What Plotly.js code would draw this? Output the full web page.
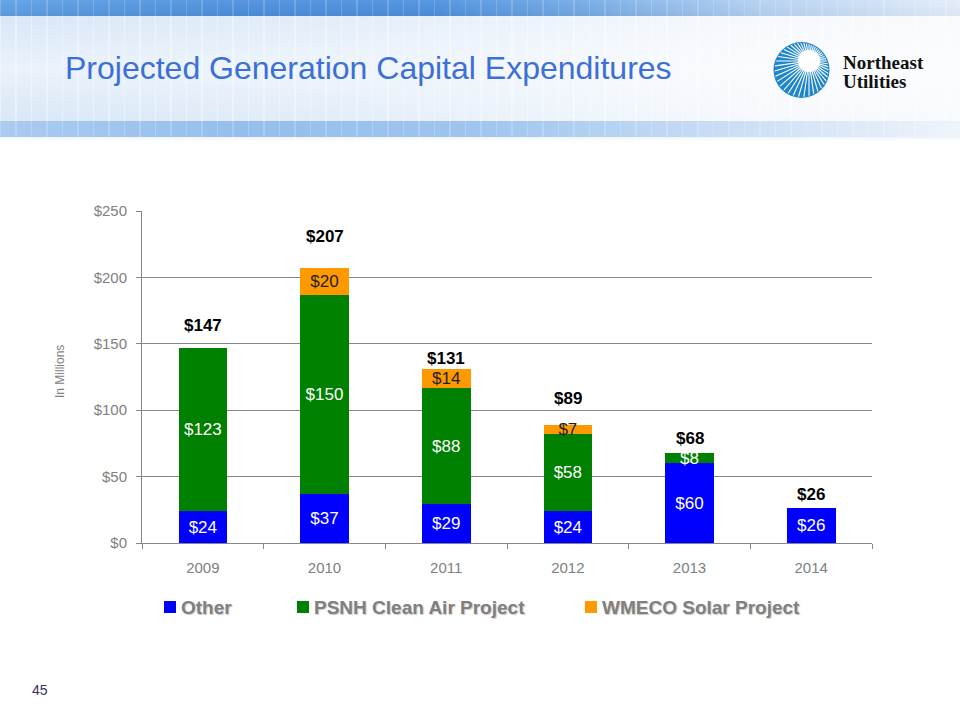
<!DOCTYPE html>
<html>
<head>
<meta charset="utf-8">
<script src="https://cdn.plot.ly/plotly-3.0.1.min.js"></script>
<style>
  html, body { margin: 0; padding: 0; background: #ffffff; }
  #wrap { position: relative; width: 960px; height: 720px; overflow: hidden; }
  #bg-top { position: absolute; left: 0; top: 0; width: 960px; height: 16px;
    background:
      repeating-linear-gradient(to right, rgba(255,255,255,0.18) 0px, rgba(255,255,255,0.18) 1px, rgba(255,255,255,0) 1px, rgba(255,255,255,0) 15.5px),
      linear-gradient(to bottom, rgba(255,255,255,0.08), rgba(0,0,0,0.03)),
      linear-gradient(to right, #5d9ee2 0%, #4a8edc 25%, #4b8fdc 45%, #76abe5 62%, #b6d2f2 80%, #e3edfa 100%); }
  #bg-mid { position: absolute; left: 0; top: 16px; width: 960px; height: 105px;
    background:
      repeating-linear-gradient(to right, rgba(255,255,255,0.35) 0px, rgba(255,255,255,0.35) 1px, rgba(255,255,255,0) 1px, rgba(255,255,255,0) 15.5px),
      linear-gradient(to bottom, rgba(255,255,255,0) 0%, rgba(255,255,255,0.45) 50%, rgba(255,255,255,0) 100%),
      linear-gradient(to right, #d9e7f8 0%, #e2edf9 35%, #eef4fc 60%, #f6f9fd 80%, #f8fafd 100%); }
  #bg-bot { position: absolute; left: 0; top: 121px; width: 960px; height: 16px;
    background:
      repeating-linear-gradient(to right, rgba(255,255,255,0.2) 0px, rgba(255,255,255,0.2) 1px, rgba(255,255,255,0) 1px, rgba(255,255,255,0) 15.5px),
      linear-gradient(to right, #abcbf0 0%, #94bfec 25%, #9fc5ee 50%, #c9ddf5 75%, #eef4fb 100%); }
  #bg-fade { position: absolute; left: 0; top: 137px; width: 960px; height: 4px;
    background: linear-gradient(to bottom, #eef4fb, #ffffff); }
  #chart { position: absolute; left: 0; top: 0; width: 960px; height: 720px; }
</style>
</head>
<body>
<div id="wrap">
  <div id="bg-top"></div>
  <div id="bg-mid"></div>
  <div id="bg-bot"></div>
  <div id="bg-fade"></div>
  <div id="chart"></div>
</div>
<script>
// ---------------- data ----------------
var years = ['2009', '2010', '2011', '2012', '2013', '2014'];
var otherValues = [24, 37, 29, 24, 60, 26];
var psnhValues  = [123, 150, 88, 58, 8, null];
var wmecoValues = [null, 20, 14, 7, null, null];
var seriesNames = ['Other', 'PSNH Clean Air Project', 'WMECO Solar Project'];
var yTickValues = [0, 50, 100, 150, 200, 250];

// ---------------- styles ----------------
var seriesColors = ['#0000ff', '#008000', '#ff9900'];
var insideTextColors = ['#ffffff', '#ffffff', '#222222'];
var totalLabelLift = [22, 32, 11, 26, 14, 14];          // px lift of total labels above bar tops
var legendSquareX = [170, 303, 591];                    // px centres of legend squares
var FONT = 'Liberation Sans, Arial, sans-serif';

var totals = years.map(function (y, i) {
  return (otherValues[i] || 0) + (psnhValues[i] || 0) + (wmecoValues[i] || 0);
});

var allSeries = [otherValues, psnhValues, wmecoValues];
var traces = allSeries.map(function (vals, k) {
  return {
    type: 'bar',
    name: seriesNames[k],
    x: years,
    y: vals,
    marker: { color: seriesColors[k], line: { width: 0 } },
    text: vals.map(function (v) { return v == null ? '' : '$' + v; }),
    textposition: 'inside',
    insidetextanchor: 'middle',
    textangle: 0,
    textfont: { family: FONT, size: 17, color: insideTextColors[k] },
    hoverinfo: 'skip',
    showlegend: false
  };
});

// plot area in pixels
var L = 142, R = 872, T = 211, B = 543;
function px(x) { return (x - L) / (R - L); }
function py(y) { return (B - y) / (B - T); }

// total labels (x given as category index)
var annotations = years.map(function (yr, i) {
  return {
    x: i, y: totals[i], xref: 'x', yref: 'y',
    text: '<b>$' + totals[i] + '</b>',
    showarrow: false, yanchor: 'middle', yshift: totalLabelLift[i],
    font: { family: FONT, size: 17, color: '#000000' }
  };
});

// logo text
annotations.push({
  xref: 'paper', yref: 'paper', x: px(841), y: py(62), xanchor: 'left', yanchor: 'middle',
  text: '<b>Northeast</b>', showarrow: false,
  font: { family: 'Liberation Serif, DejaVu Serif, serif', size: 19, color: '#111111' }
});
annotations.push({
  xref: 'paper', yref: 'paper', x: px(841), y: py(81), xanchor: 'left', yanchor: 'middle',
  text: '<b>Utilities</b>', showarrow: false,
  font: { family: 'Liberation Serif, DejaVu Serif, serif', size: 19, color: '#111111' }
});
// page number
annotations.push({
  xref: 'paper', yref: 'paper', x: px(40), y: py(690), xanchor: 'center', yanchor: 'middle',
  text: '45', showarrow: false,
  font: { family: FONT, size: 14, color: '#333366' }
});
// y-axis title
annotations.push({
  xref: 'paper', yref: 'paper', x: px(60), y: py(372), xanchor: 'center', yanchor: 'middle',
  text: 'In Millions', textangle: -90, showarrow: false,
  font: { family: FONT, size: 12, color: '#808080' }
});

var shapes = [];
// legend (squares + labels)
seriesNames.forEach(function (nm, k) {
  var sx = legendSquareX[k], sy = 607, h = 6;
  shapes.push({ type: 'rect', xref: 'paper', yref: 'paper',
    x0: px(sx - h), x1: px(sx + h), y0: py(sy + h), y1: py(sy - h),
    fillcolor: seriesColors[k], line: { width: 0 } });
  annotations.push({
    xref: 'paper', yref: 'paper', x: px(sx + 9), y: py(sy), xanchor: 'left', yanchor: 'middle',
    text: '<b>' + nm + '</b>', showarrow: false,
    font: { family: FONT, size: 19, color: '#808080', shadow: '1px 1px 1px #c8c8c8' }
  });
});

// logo shapes
var cx = 801.5, cy = 70, Rr = 28;
var hx = 809, hy = 61, hr = 11;
shapes.push({ type: 'circle', xref: 'paper', yref: 'paper',
  x0: px(cx - Rr), x1: px(cx + Rr), y0: py(cy + Rr), y1: py(cy - Rr),
  fillcolor: '#1f86c9', line: { width: 0 }, layer: 'above' });
var nRays = 44;
for (var k = 0; k < nRays; k++) {
  var a = 2 * Math.PI * k / nRays;
  var dx = Math.cos(a), dy = Math.sin(a);
  var ox = hx - cx, oy = hy - cy;
  var bq = ox * dx + oy * dy;
  var cq = ox * ox + oy * oy - Rr * Rr;
  var t = -bq + Math.sqrt(bq * bq - cq);
  var t1 = t - 1.2;
  shapes.push({ type: 'line', xref: 'paper', yref: 'paper',
    x0: px(hx), y0: py(hy), x1: px(hx + dx * t1), y1: py(hy + dy * t1),
    line: { color: '#ffffff', width: 1.1 }, layer: 'above' });
}
shapes.push({ type: 'circle', xref: 'paper', yref: 'paper',
  x0: px(hx - hr), x1: px(hx + hr), y0: py(hy + hr), y1: py(hy - hr),
  fillcolor: '#ffffff', line: { width: 0 }, layer: 'above' });

var gray = '#808080';
var layout = {
  width: 960, height: 720,
  margin: { l: L, r: 960 - R, t: T, b: 720 - B, pad: 0 },
  paper_bgcolor: 'rgba(0,0,0,0)',
  plot_bgcolor: 'rgba(0,0,0,0)',
  barmode: 'stack',
  bargap: 0.6,
  showlegend: false,
  uniformtext: { mode: 'show', minsize: 17 },
  title: {
    text: 'Projected Generation Capital Expenditures',
    xref: 'container', yref: 'container',
    x: 65 / 960, xanchor: 'left', y: 1 - 68 / 720, yanchor: 'middle',
    font: { family: FONT, size: 32, color: '#3c6fd8' }
  },
  font: { family: FONT, color: gray },
  xaxis: {
    type: 'category',
    range: [-0.5, years.length - 0.5],
    showline: true, linecolor: '#868686', linewidth: 1,
    ticks: 'outside', tickson: 'boundaries', ticklen: 5, tickcolor: '#868686',
    tickfont: { size: 15, color: gray },
    ticklabelstandoff: 11,
    showgrid: false, zeroline: false, fixedrange: true
  },
  yaxis: {
    range: [0, 250],
    tickmode: 'array',
    tickvals: yTickValues,
    ticktext: yTickValues.map(function (v) { return '$' + v; }),
    showline: true, linecolor: '#868686', linewidth: 1,
    ticks: 'outside', ticklen: 5, tickcolor: '#868686',
    tickfont: { size: 15, color: gray },
    ticklabelstandoff: 6,
    showgrid: true, gridcolor: '#868686', gridwidth: 1,
    zeroline: false, fixedrange: true,
    automargin: false
  },
  annotations: annotations,
  shapes: shapes
};

Plotly.newPlot('chart', traces, layout, { displayModeBar: false, staticPlot: true });
</script>
</body>
</html>
